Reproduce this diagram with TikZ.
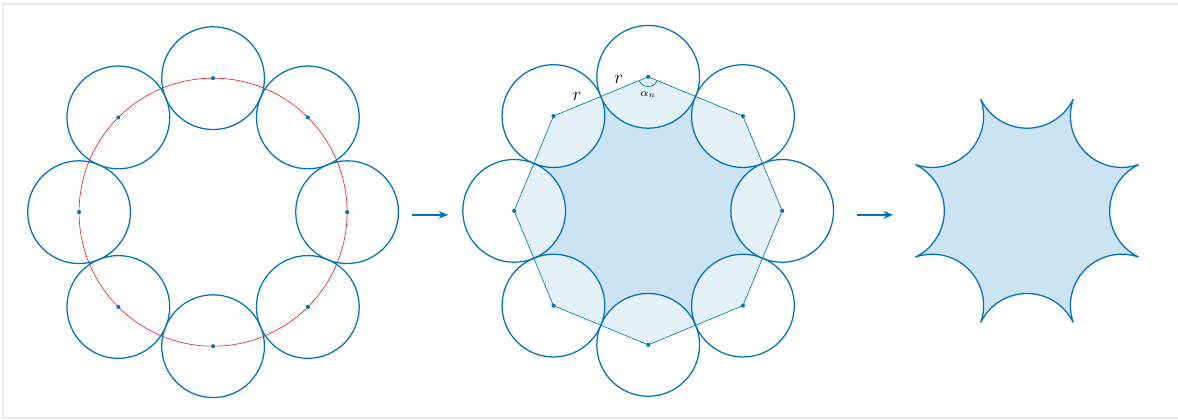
\documentclass[tikz,border=0pt]{standalone}
\usepackage{tikz}
\usetikzlibrary{positioning,calc,arrows.meta}
\definecolor{lineblue}{RGB}{0,114,189}
\definecolor{darkfill}{RGB}{204,228,242}
\definecolor{lightfill}{RGB}{228,241,249}
\definecolor{framegray}{RGB}{232,232,232}
\definecolor{ringred}{RGB}{232,30,40}

\begin{document}
\begin{tikzpicture}[
  disc/.style={draw=lineblue, line width=0.8pt},
  dot/.style={circle, fill=lineblue, inner sep=0pt, minimum size=2.6pt},
  edge/.style={draw=lineblue, line width=0.4pt},
  flow/.style={-{Stealth[length=6pt,width=5pt]}, draw=lineblue, line width=1.2pt}]
\useasboundingbox (0,0) rectangle (26.37,9.38);
\draw[framegray, line width=0.8pt] (0.07,0.02) rectangle (26.6,9.29);

\coordinate (L) at (4.77,4.63);
\coordinate (M) at (14.51,4.66);
\coordinate (S) at (22.99,4.66);
\foreach \i in {0,...,7}{
  \coordinate (L\i) at ($(L)+({90-45*\i}:3)$);
  \coordinate (M\i) at ($(M)+({90-45*\i}:3)$);
}

% circles on the ring
\draw[ringred, line width=0.4pt] (L) circle[radius=3];
\foreach \i in {0,...,7}{
  \draw[disc] (L\i) circle[radius=1.15];
  \node[dot] (l\i) at (L\i) {};
}

% octagon and the cut out shape
\fill[lightfill] (M0) -- (M1) -- (M2) -- (M3) -- (M4) -- (M5) -- (M6) -- (M7) -- cycle;
\fill[darkfill] ($(M)+(90:3)+(205.836:1.15)$)
  \foreach \t in {90,45,...,-225}{ arc[start angle=\t+115.836, end angle=\t+244.164, radius=1.15] } -- cycle;
\draw[edge] (M0) -- (M1) -- (M2) -- (M3) -- (M4) -- (M5) -- (M6) -- (M7) -- cycle;
\foreach \i in {0,...,7}{
  \draw[disc] (M\i) circle[radius=1.15];
  \node[dot] (m\i) at (M\i) {};
}
\draw[edge] ($(M0)+(202.5:0.22)$) arc[start angle=202.5, end angle=337.5, radius=0.22];
\node[font=\scriptsize] (alpha) at ($(M0)+(0,-0.4)$) {$\alpha_n$};
\path (M7) -- (M0) node[pos=0.25, above, font=\large] (r1) {$r$} node[pos=0.69, above, font=\large] (r2) {$r$};

% result
\filldraw[fill=darkfill, disc, line join=bevel] ($(S)+(90:3)+(205.836:1.15)$)
  \foreach \t in {90,45,...,-225}{ arc[start angle=\t+115.836, end angle=\t+244.164, radius=1.15] } -- cycle;

\coordinate (a1) at (9.22,4.57);
\coordinate (b1) at (10.03,4.57);
\coordinate (a2) at (19.19,4.57);
\coordinate (b2) at (19.99,4.57);
\draw[flow] (a1) -- (b1);
\draw[flow] (a2) -- (b2);
\end{tikzpicture}
\end{document}
